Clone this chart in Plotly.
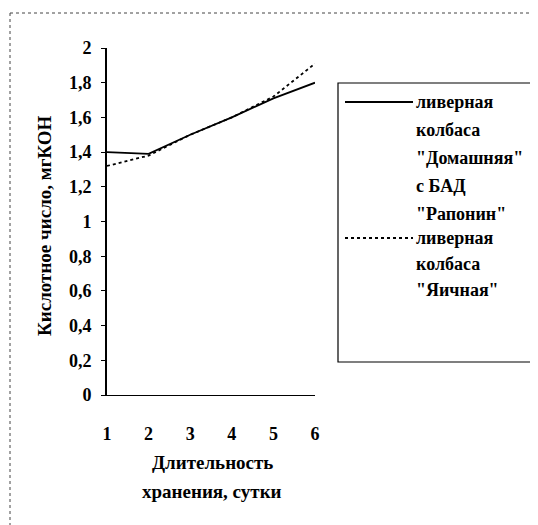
import plotly.graph_objects as go

days = [1, 2, 3, 4, 5, 6]
domashnyaya = [1.40, 1.39, 1.50, 1.60, 1.71, 1.80]
yaichnaya = [1.32, 1.38, 1.50, 1.60, 1.72, 1.91]
x_tick_labels = ["1", "2", "3", "4", "5", "6"]
series_names = [
    "ливерная колбаса \"Домашняя\" с БАД \"Рапонин\"",
    "ливерная колбаса \"Яичная\"",
]
legend_lines = [
    ["ливерная", "колбаса", "\"Домашняя\"", "с БАД", "\"Рапонин\""],
    ["ливерная", "колбаса", "\"Яичная\""],
]
y_title = "Кислотное число, мгКОН"
x_title_lines = ["Длительность", "хранения, сутки"]

OFF = 8  # page body margin
W, H = 538 - OFF, 525 - OFF
L, R, T, B = 107 - OFF, 315 - OFF, 48 - OFF, 395 - OFF  # plot area in figure pixels
FONT = "Liberation Serif"
FS = 18


def px(xp):
    return (xp - OFF - L) / (R - L)


def py(yp):
    return (B - (yp - OFF)) / (B - T)


def txt(s):
    return "<b>" + s + "</b>"


fig = go.Figure()
fig.add_trace(go.Scatter(x=days, y=domashnyaya, mode="lines", name=series_names[0],
                         line=dict(color="black", width=1.8), showlegend=False))
fig.add_trace(go.Scatter(x=days, y=yaichnaya, mode="lines", name=series_names[1],
                         line=dict(color="black", width=1.8, dash="dot"), showlegend=False))

shapes = []
annotations = []

# legend box
shapes.append(dict(type="rect", xref="paper", yref="paper", x0=px(338), x1=px(532),
                   y0=py(362), y1=py(83), line=dict(color="black", width=1.2)))
entry_tops = [102, 238]
line_gaps = [28, 26]
dashes = ["solid", "dot"]
for i, lines in enumerate(legend_lines):
    y0 = entry_tops[i]
    shapes.append(dict(type="line", xref="paper", yref="paper", x0=px(345), x1=px(413),
                       y0=py(y0), y1=py(y0), line=dict(color="black", width=1.8, dash=dashes[i])))
    for j, t in enumerate(lines):
        annotations.append(dict(text=txt(t), xref="paper", yref="paper", x=px(414),
                                y=py(y0 + j * line_gaps[i]), xanchor="left", yanchor="middle",
                                showarrow=False, font=dict(family=FONT, size=FS, color="black")))

# x title lines
for j, t in enumerate(x_title_lines):
    annotations.append(dict(text=txt(t), xref="paper", yref="paper", x=px(212),
                            y=py(463 + j * 28), xanchor="center", yanchor="middle",
                            showarrow=False, font=dict(family=FONT, size=FS + 1, color="black")))

# y title
annotations.append(dict(text=txt(y_title), xref="paper", yref="paper", x=px(44),
                        y=py(226), xanchor="center", yanchor="middle", textangle=-90,
                        showarrow=False, font=dict(family=FONT, size=FS + 1, color="black")))

# outer frame (top and left edges)
shapes.append(dict(type="line", xref="paper", yref="paper", x0=px(10), x1=px(538),
                   y0=py(13), y1=py(13), line=dict(color="#444", width=1, dash="dot")))
shapes.append(dict(type="line", xref="paper", yref="paper", x0=px(10), x1=px(10),
                   y0=py(13), y1=py(525), line=dict(color="#444", width=1, dash="dot")))

fig.update_layout(
    width=W, height=H,
    margin=dict(l=L, r=W - R, t=T, b=H - B),
    plot_bgcolor="white", paper_bgcolor="white",
    separators=", ",
    font=dict(family=FONT, size=FS, color="black"),
    shapes=shapes, annotations=annotations,
    xaxis=dict(range=[1, 6], tickvals=days, ticktext=[txt(t) for t in x_tick_labels],
               showgrid=False, zeroline=False, showline=True, linecolor="black", linewidth=1.2,
               ticks="", ticklabelstandoff=22, tickfont=dict(size=FS)),
    yaxis=dict(range=[0, 2], dtick=0.2, showgrid=False, zeroline=False, showline=True,
               linecolor="black", linewidth=1.8, ticks="outside", ticklen=4,
               tickcolor="black", tickfont=dict(size=FS), ticklabelstandoff=6,
               tickprefix="<b>", ticksuffix="</b>"),
)

fig.write_html("out.html")
